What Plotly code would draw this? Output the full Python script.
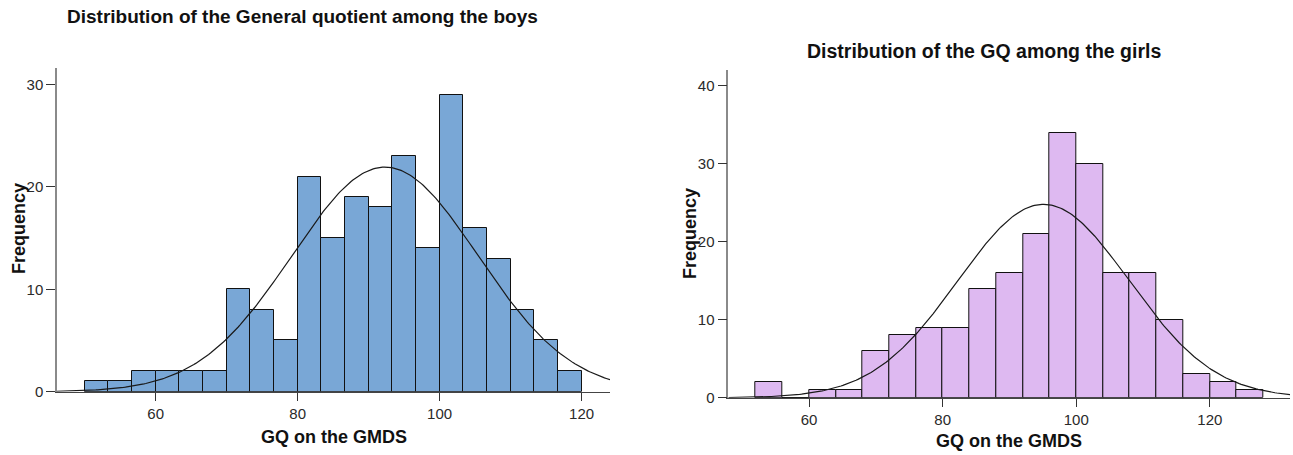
import numpy as np
import plotly.graph_objects as go

# ---------------- data ----------------
boys_bin_start = 50.0
boys_bin_width = 10.0 / 3.0
boys_counts = [1, 1, 2, 2, 2, 2, 10, 8, 5, 21, 15, 19, 18, 23, 14, 29, 16, 13, 8, 5, 2]
boys_mean = 92.3
boys_sd = 13.1

girls_bin_start = 52.0
girls_bin_width = 4.0
girls_counts = [2, 0, 1, 1, 6, 8, 9, 9, 14, 16, 21, 34, 30, 16, 16, 10, 3, 2, 1]
girls_mean = 95.1
girls_sd = 12.8

x_ticks = [60, 80, 100, 120]
boys_y_ticks = [0, 10, 20, 30]
girls_y_ticks = [0, 10, 20, 30, 40]

title_boys = "Distribution of the General quotient among the boys"
title_girls = "Distribution of the GQ among the girls"
x_title = "GQ on the GMDS"
y_title = "Frequency"

boys_color = "#79A7D6"
girls_color = "#DEB9F1"

W, H = 1293, 455
FONT = "Liberation Sans, Arial, sans-serif"


def centers(start, width, n):
    return [start + width * (i + 0.5) for i in range(n)]


def normal_curve(mean, sd, n, width, lo, hi):
    xs = np.linspace(lo, hi, 300)
    ys = n * width / (sd * np.sqrt(2 * np.pi)) * np.exp(-0.5 * ((xs - mean) / sd) ** 2)
    return xs, ys


boys_xrange = [46.1, 124.0]
girls_xrange = [47.9, 132.0]

fig = go.Figure()

fig.add_trace(go.Bar(
    x=centers(boys_bin_start, boys_bin_width, len(boys_counts)),
    y=boys_counts, width=boys_bin_width,
    marker=dict(color=boys_color, line=dict(color="#111111", width=1)),
    xaxis="x", yaxis="y", showlegend=False, hoverinfo="x+y"))
bx, by = normal_curve(boys_mean, boys_sd, sum(boys_counts), boys_bin_width, *boys_xrange)
fig.add_trace(go.Scatter(x=bx, y=by, mode="lines", line=dict(color="#1a1a1a", width=1.2),
                         xaxis="x", yaxis="y", showlegend=False, hoverinfo="skip"))

fig.add_trace(go.Bar(
    x=centers(girls_bin_start, girls_bin_width, len(girls_counts)),
    y=girls_counts, width=girls_bin_width,
    marker=dict(color=girls_color, line=dict(color="#111111", width=1)),
    xaxis="x2", yaxis="y2", showlegend=False, hoverinfo="x+y"))
gx, gy = normal_curve(girls_mean, girls_sd, sum(girls_counts), girls_bin_width, *girls_xrange)
fig.add_trace(go.Scatter(x=gx, y=gy, mode="lines", line=dict(color="#1a1a1a", width=1.2),
                         xaxis="x2", yaxis="y2", showlegend=False, hoverinfo="skip"))

tickfont = dict(family=FONT, size=15, color="#2a2a2a")


def xaxis(domain, rng, anchor):
    return dict(domain=domain, range=rng, anchor=anchor, tickvals=x_ticks,
                ticks="outside", ticklen=8, tickcolor="#333333", tickwidth=1,
                showline=True, linecolor="#444444", linewidth=1,
                showgrid=False, zeroline=False, tickfont=tickfont, automargin=False)


def yaxis(domain, rng, anchor, tv):
    return dict(domain=domain, range=rng, anchor=anchor, tickvals=tv,
                ticks="outside", ticklen=9, tickcolor="#333333", tickwidth=1,
                showline=True, linecolor="#8a8a8a", linewidth=1.5,
                showgrid=False, zeroline=False, tickfont=tickfont, automargin=False)


bx0, bx1 = 57 / W, 610 / W
gx0, gx1 = 728.3 / W, 1290 / W
by0, by1 = 1 - 391.7 / H, 1 - 68 / H
gy0, gy1 = 1 - 397.7 / H, 1 - 70 / H

fig.update_layout(
    width=W, height=H,
    margin=dict(l=0, r=0, t=0, b=0, autoexpand=False),
    paper_bgcolor="white", plot_bgcolor="white",
    bargap=0,
    xaxis=xaxis([bx0, bx1], boys_xrange, "y"),
    yaxis=yaxis([by0, by1], [0, 31.6], "x", boys_y_ticks),
    xaxis2=xaxis([gx0, gx1], girls_xrange, "y2"),
    yaxis2=yaxis([gy0, gy1], [0, 42.05], "x2", girls_y_ticks),
)

bold = dict(family=FONT, size=18, color="#111111")
ann = [
    dict(text="<b>%s</b>" % title_boys, x=302 / W, y=1 - 17 / H,
         font=dict(family=FONT, size=19.0, color="#111111")),
    dict(text="<b>%s</b>" % title_girls, x=984 / W, y=1 - 51 / H,
         font=dict(family=FONT, size=19.5, color="#111111")),
    dict(text="<b>%s</b>" % x_title, x=(bx0 + bx1) / 2, y=1 - 437 / H, font=bold),
    dict(text="<b>%s</b>" % x_title, x=(gx0 + gx1) / 2, y=1 - 441 / H, font=bold),
    dict(text="<b>%s</b>" % y_title, x=19 / W, y=1 - 229 / H, font=bold, textangle=-90),
    dict(text="<b>%s</b>" % y_title, x=690 / W, y=1 - 233 / H, font=bold, textangle=-90),
]
for a in ann:
    a.update(xref="paper", yref="paper", showarrow=False, xanchor="center", yanchor="middle")
fig.update_layout(annotations=ann)

fig.write_html("out.html", config={"displayModeBar": False},
               post_script="document.body.style.margin='0';document.body.style.overflow='hidden';")
